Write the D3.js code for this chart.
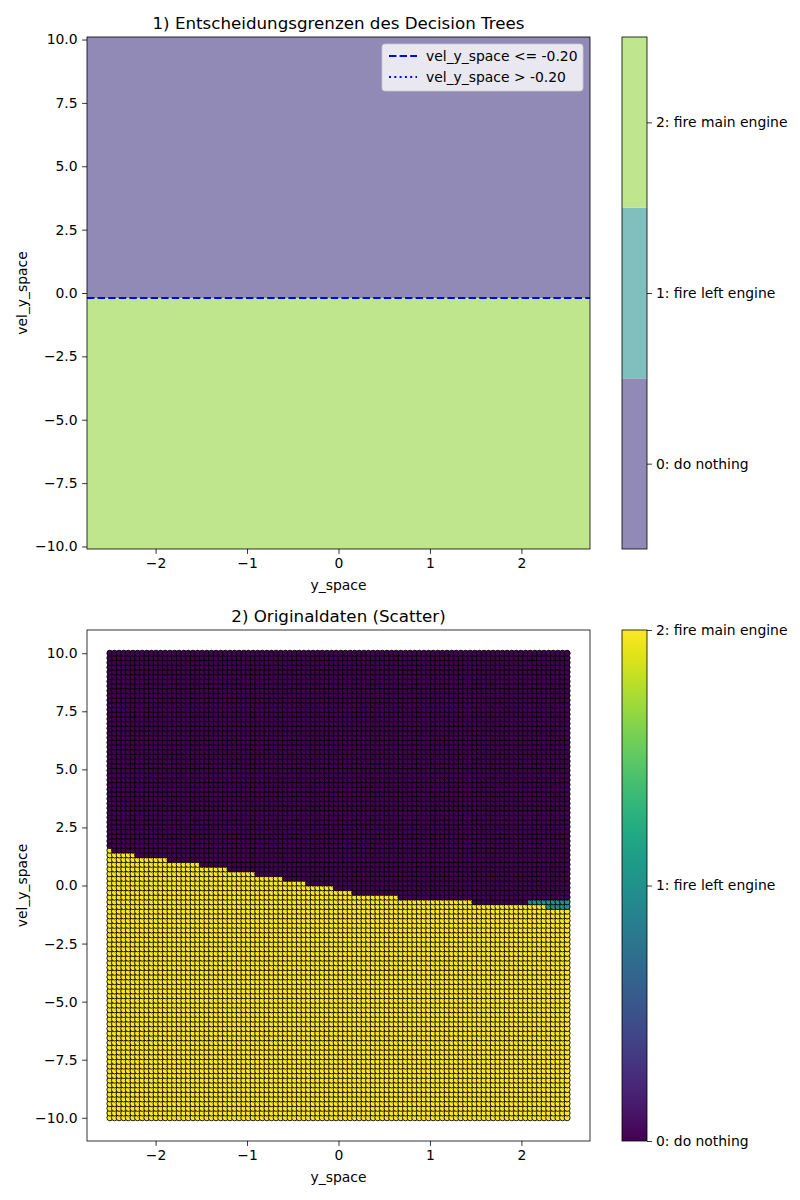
<!DOCTYPE html>
<html>
<head>
<meta charset="utf-8">
<script src="https://cdn.jsdelivr.net/npm/d3@7"></script>
<style>
  body { margin: 0; background: #fff; }
  svg { font-family: "DejaVu Sans", sans-serif; }
</style>
</head>
<body>
<svg id="chart" width="800" height="1200"></svg>
<script>
// Class labels and colours
const classLabels = ["0: do nothing", "1: fire left engine", "2: fire main engine"];
const regionColors = ["#9189b6", "#7fbfbd", "#c0e68d"];
const classValues = [0, 1, 2];

// Decision tree split shown in panel 1
const splitValue = -0.2;

// Ticks
const xTicks = [-2, -1, 0, 1, 2];
const yTicks = [10, 7.5, 5, 2.5, 0, -2.5, -5, -7.5, -10];

// Sample grid (linspace of the original data)
const gridXMin = -2.5, gridXMax = 2.5, gridXCount = 100;
const gridYMin = -10, gridYMax = 10, gridYCount = 100;

// Staircase of the labels in the original data:
// from segStart[i] on, vel < mainBelow[i] -> class 2, vel < leftBelow[i] -> class 1
const segStart  = [-2.5, -2.475, -2.2, -1.89, -1.53, -1.21, -0.93, -0.61, -0.33, -0.03, 0.13, 0.645, 1.44, 2.07, 2.26];
const mainBelow = [1.6, 1.4, 1.2, 1.0, 0.8, 0.6, 0.4, 0.2, 0.0, -0.2, -0.4, -0.6, -0.8, -0.8, -1.0];
const leftBelow = [1.6, 1.4, 1.2, 1.0, 0.8, 0.6, 0.4, 0.2, 0.0, -0.2, -0.4, -0.6, -0.8, -0.6, -0.6];

const svg = d3.select("#chart");
const left = 87, right = 590;
const fs = 13.9;
const fmtY = d => d3.format(".1f")(d).replace("-", "\u2212");
const fmtX = d => String(d).replace("-", "\u2212");

function drawAxes(g, x, y, top, bottom, title) {
  g.append("g")
    .attr("transform", `translate(0,${bottom})`)
    .call(d3.axisBottom(x).tickValues(xTicks).tickFormat(fmtX).tickSize(4.9).tickPadding(4))
    .call(a => a.select(".domain").remove());
  g.append("g")
    .attr("transform", `translate(${left},0)`)
    .call(d3.axisLeft(y).tickValues(yTicks).tickFormat(fmtY).tickSize(4.9).tickPadding(4.5))
    .call(a => a.select(".domain").remove());
  g.selectAll(".tick text").attr("font-size", fs).attr("fill", "#000")
    .attr("font-family", "DejaVu Sans");
  g.selectAll(".tick line").attr("stroke", "#000").attr("stroke-width", 0.8);

  g.append("rect")
    .attr("x", left).attr("y", top)
    .attr("width", right - left).attr("height", bottom - top)
    .attr("fill", "none").attr("stroke", "#000").attr("stroke-width", 0.8);

  g.append("text")
    .attr("x", (left + right) / 2).attr("y", top - 8)
    .attr("text-anchor", "middle").attr("font-size", 16.7)
    .text(title);
  g.append("text")
    .attr("x", (left + right) / 2).attr("y", bottom + 41)
    .attr("text-anchor", "middle").attr("font-size", fs)
    .text("y_space");
  g.append("text")
    .attr("transform", `translate(27,${(top + bottom) / 2}) rotate(-90)`)
    .attr("text-anchor", "middle").attr("font-size", fs)
    .text("vel_y_space");
}

// ---------- Panel 1: decision regions ----------
{
  const top = 37, bottom = 549;
  const g = svg.append("g");
  const x = d3.scaleLinear().domain([-2.75, 2.75]).range([left, right]);
  const y = d3.scaleLinear().domain([-10.1, 10.1]).range([bottom, top]);

  const regions = [
    { cls: 0, y0: splitValue, y1: 10.1 },
    { cls: 2, y0: -10.1, y1: splitValue }
  ];
  g.selectAll("rect.region")
    .data(regions)
    .enter()
    .append("rect")
    .attr("class", "region")
    .attr("x", x(-2.75))
    .attr("width", x(2.75) - x(-2.75))
    .attr("y", d => y(d.y1))
    .attr("height", d => y(d.y0) - y(d.y1))
    .attr("fill", d => regionColors[d.cls]);

  g.append("line")
    .attr("x1", x(-2.75)).attr("x2", x(2.75))
    .attr("y1", y(splitValue)).attr("y2", y(splitValue))
    .attr("stroke", "#0000ff").attr("stroke-width", 2)
    .attr("stroke-dasharray", "7.4,3.2");

  drawAxes(g, x, y, top, bottom, "1) Entscheidungsgrenzen des Decision Trees");

  // Legend
  const lg = g.append("g").attr("transform", "translate(382,44)");
  lg.append("rect")
    .attr("width", 201).attr("height", 47).attr("rx", 3)
    .attr("fill", "#fff").attr("fill-opacity", 0.8)
    .attr("stroke", "#cccccc").attr("stroke-width", 0.8);
  const items = [
    { label: "vel_y_space <= -0.20", dash: "7.4,3.2" },
    { label: "vel_y_space > -0.20", dash: "2,3.3" }
  ];
  items.forEach((it, i) => {
    const yy = 12 + i * 21;
    lg.append("line")
      .attr("x1", 7).attr("x2", 35).attr("y1", yy).attr("y2", yy)
      .attr("stroke", "#0000ff").attr("stroke-width", 2)
      .attr("stroke-dasharray", it.dash);
    lg.append("text")
      .attr("x", 44).attr("y", yy + 5)
      .attr("font-size", fs).text(it.label);
  });

  // Discrete colorbar
  const cb = g.append("g");
  const cx0 = 622, cw = 25;
  const cy = d3.scaleLinear().domain([-0.5, 2.5]).range([bottom, top]);
  cb.selectAll("rect.band")
    .data(classValues)
    .enter()
    .append("rect")
    .attr("class", "band")
    .attr("x", cx0).attr("width", cw)
    .attr("y", d => cy(d + 0.5))
    .attr("height", d => cy(d - 0.5) - cy(d + 0.5))
    .attr("fill", d => regionColors[d]);
  cb.append("rect")
    .attr("x", cx0).attr("y", top).attr("width", cw).attr("height", bottom - top)
    .attr("fill", "none").attr("stroke", "#000").attr("stroke-width", 0.8);
  cb.append("g")
    .attr("transform", `translate(${cx0 + cw},0)`)
    .call(d3.axisRight(cy).tickValues(classValues).tickFormat(d => classLabels[d]).tickSize(4.9).tickPadding(4))
    .call(a => a.select(".domain").remove())
    .call(a => a.selectAll("text").attr("font-size", fs).attr("fill", "#000").attr("font-family", "DejaVu Sans"))
    .call(a => a.selectAll("line").attr("stroke", "#000").attr("stroke-width", 0.8));
}

// ---------- Panel 2: scatter of original data ----------
{
  const top = 630, bottom = 1141;
  const g = svg.append("g");
  const x = d3.scaleLinear().domain([-2.75, 2.75]).range([left, right]);
  const y = d3.scaleLinear().domain([-11, 11]).range([bottom, top]);
  const color = d3.scaleSequential(d3.interpolateViridis).domain([0, 2]);

  const gx = d3.range(gridXCount).map(i => gridXMin + i * (gridXMax - gridXMin) / (gridXCount - 1));
  const gy = d3.range(gridYCount).map(j => gridYMin + j * (gridYMax - gridYMin) / (gridYCount - 1));

  function label(px, py) {
    let s = 0;
    for (let k = 0; k < segStart.length; k++) if (px >= segStart[k] - 1e-9) s = k;
    if (py < mainBelow[s]) return 2;
    if (py < leftBelow[s]) return 1;
    return 0;
  }

  const points = [];
  gy.forEach(py => gx.forEach(px => points.push({ x: px, y: py, c: label(px, py) })));

  g.selectAll("circle")
    .data(points)
    .enter()
    .append("circle")
    .attr("cx", d => x(d.x))
    .attr("cy", d => y(d.y))
    .attr("r", 3.0)
    .attr("fill", d => color(d.c))
    .attr("stroke", "#000")
    .attr("stroke-width", 0.9);

  drawAxes(g, x, y, top, bottom, "2) Originaldaten (Scatter)");

  // Continuous colorbar
  const defs = svg.append("defs");
  const grad = defs.append("linearGradient")
    .attr("id", "viridis").attr("x1", 0).attr("y1", 1).attr("x2", 0).attr("y2", 0);
  d3.range(0, 1.0001, 0.05).forEach(t => {
    grad.append("stop").attr("offset", t).attr("stop-color", d3.interpolateViridis(t));
  });
  const cx0 = 622, cw = 25;
  const cy = d3.scaleLinear().domain([0, 2]).range([bottom, top]);
  g.append("rect")
    .attr("x", cx0).attr("y", top).attr("width", cw).attr("height", bottom - top)
    .attr("fill", "url(#viridis)").attr("stroke", "#000").attr("stroke-width", 0.8);
  g.append("g")
    .attr("transform", `translate(${cx0 + cw},0)`)
    .call(d3.axisRight(cy).tickValues(classValues).tickFormat(d => classLabels[d]).tickSize(4.9).tickPadding(4))
    .call(a => a.select(".domain").remove())
    .call(a => a.selectAll("text").attr("font-size", fs).attr("fill", "#000").attr("font-family", "DejaVu Sans"))
    .call(a => a.selectAll("line").attr("stroke", "#000").attr("stroke-width", 0.8));
}
</script>
</body>
</html>
